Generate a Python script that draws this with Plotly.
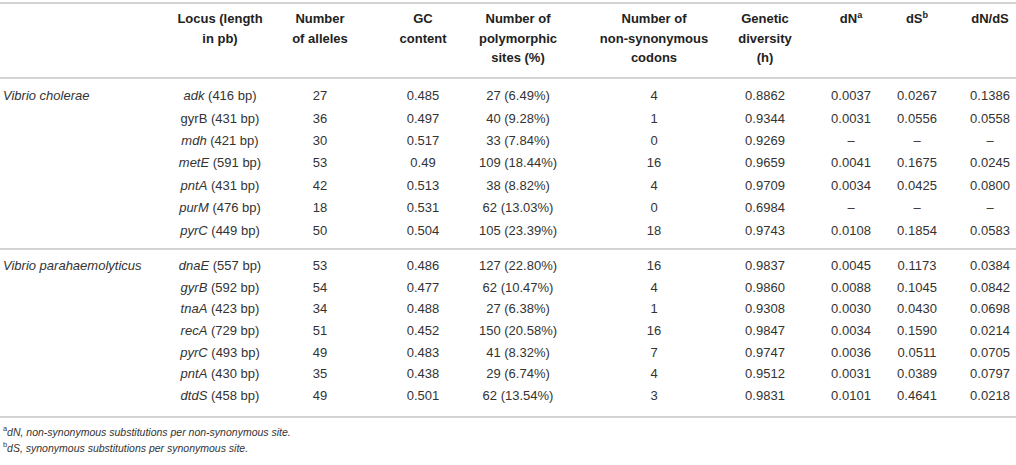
import plotly.graph_objects as go

# ---------------- data ----------------
species = ["Vibrio cholerae", "Vibrio parahaemolyticus"]
loci_vc = ["<i>adk</i> (416 bp)", "gyrB (431 bp)", "<i>mdh</i> (421 bp)", "<i>metE</i> (591 bp)",
           "<i>pntA</i> (431 bp)", "<i>purM</i> (476 bp)", "<i>pyrC</i> (449 bp)"]
loci_vp = ["<i>dnaE</i> (557 bp)", "<i>gyrB</i> (592 bp)", "<i>tnaA</i> (423 bp)", "<i>recA</i> (729 bp)",
           "<i>pyrC</i> (493 bp)", "<i>pntA</i> (430 bp)", "<i>dtdS</i> (458 bp)"]
alleles = ["27", "36", "30", "53", "42", "18", "50", "53", "54", "34", "51", "49", "35", "49"]
gc = ["0.485", "0.497", "0.517", "0.49", "0.513", "0.531", "0.504",
      "0.486", "0.477", "0.488", "0.452", "0.483", "0.438", "0.501"]
poly = ["27 (6.49%)", "40 (9.28%)", "33 (7.84%)", "109 (18.44%)", "38 (8.82%)", "62 (13.03%)", "105 (23.39%)",
        "127 (22.80%)", "62 (10.47%)", "27 (6.38%)", "150 (20.58%)", "41 (8.32%)", "29 (6.74%)", "62 (13.54%)"]
nonsyn = ["4", "1", "0", "16", "4", "0", "18", "16", "4", "1", "16", "7", "4", "3"]
hdiv = ["0.8862", "0.9344", "0.9269", "0.9659", "0.9709", "0.6984", "0.9743",
        "0.9837", "0.9860", "0.9308", "0.9847", "0.9747", "0.9512", "0.9831"]
dN = ["0.0037", "0.0031", "–", "0.0041", "0.0034", "–", "0.0108",
      "0.0045", "0.0088", "0.0030", "0.0034", "0.0036", "0.0031", "0.0101"]
dS = ["0.0267", "0.0556", "–", "0.1675", "0.0425", "–", "0.1854",
      "0.1173", "0.1045", "0.0430", "0.1590", "0.0511", "0.0389", "0.4641"]
dNdS = ["0.1386", "0.0558", "–", "0.0245", "0.0800", "–", "0.0583",
        "0.0384", "0.0842", "0.0698", "0.0214", "0.0705", "0.0797", "0.0218"]
headers = [["Locus (length", "in pb)"], ["Number", "of alleles"], ["GC", "content"],
           ["Number of", "polymorphic", "sites (%)"], ["Number of", "non-synonymous", "codons"],
           ["Genetic", "diversity", "(h)"], ["dN<sup>a</sup>"], ["dS<sup>b</sup>"], ["dN/dS"]]
footnotes = ["<sup>a</sup><i>dN, non-synonymous substitutions per non-synonymous site.</i>",
             "<sup>b</sup><i>dS, synonymous substitutions per synonymous site.</i>"]

# ---------------- layout ----------------
W, H = 1016, 465
FONT = "Liberation Sans"
TXT = "#333333"
RULE = "#c4c4c4"
FS = 13
col_x = [220, 320, 423, 518, 654, 765, 851, 917, 990]
label_x = 3
row0 = [97, 267]
pitch = [22.4, 21.6]
head_y0, head_dy = 20, 19.5
rules_y = [3, 78, 249, 417]
foot_y = [433, 449]

columns = [loci_vc + loci_vp, alleles, gc, poly, nonsyn, hdiv, dN, dS, dNdS]
n1 = len(loci_vc)
row_y = [row0[0] + i * pitch[0] for i in range(n1)] + [row0[1] + i * pitch[1] for i in range(len(loci_vp))]

hx, hy, ht = [], [], []
for cx, lines in zip(col_x, headers):
    for k, line in enumerate(lines):
        hx.append(cx)
        hy.append(head_y0 + k * head_dy)
        ht.append("<b>%s</b>" % line)

fig = go.Figure()
fig.add_trace(go.Scatter(x=hx, y=hy, mode="text", text=ht, textposition="middle center",
                         textfont=dict(family=FONT, size=FS, color="#222222"),
                         hoverinfo="skip", showlegend=False, cliponaxis=False))
fig.add_trace(go.Scatter(x=[label_x, label_x], y=[row0[0], row0[1]], mode="text",
                         text=["<i>%s</i>" % s for s in species], textposition="middle right",
                         textfont=dict(family=FONT, size=FS, color=TXT),
                         hoverinfo="skip", showlegend=False, cliponaxis=False))
for cx, vals in zip(col_x, columns):
    fig.add_trace(go.Scatter(x=[cx] * len(vals), y=row_y, mode="text", text=vals,
                             textposition="middle center",
                             textfont=dict(family=FONT, size=FS, color=TXT),
                             hoverinfo="skip", showlegend=False, cliponaxis=False))
fig.add_trace(go.Scatter(x=[label_x] * len(footnotes), y=foot_y, mode="text", text=footnotes,
                         textposition="middle right",
                         textfont=dict(family=FONT, size=10.5, color=TXT),
                         hoverinfo="skip", showlegend=False, cliponaxis=False))

for ry in rules_y:
    fig.add_shape(type="line", x0=0, x1=W, y0=ry, y1=ry, xref="x", yref="y",
                  line=dict(color=RULE, width=1.5))

fig.update_layout(width=W, height=H, margin=dict(l=0, r=0, t=0, b=0),
                  paper_bgcolor="white", plot_bgcolor="white", hovermode=False,
                  xaxis=dict(range=[0, W], visible=False, fixedrange=True),
                  yaxis=dict(range=[H, 0], visible=False, fixedrange=True))
fig.write_html("out.html", config={"displayModeBar": False, "staticPlot": True},
               post_script="document.body.style.margin='0';document.body.style.overflow='hidden';")
